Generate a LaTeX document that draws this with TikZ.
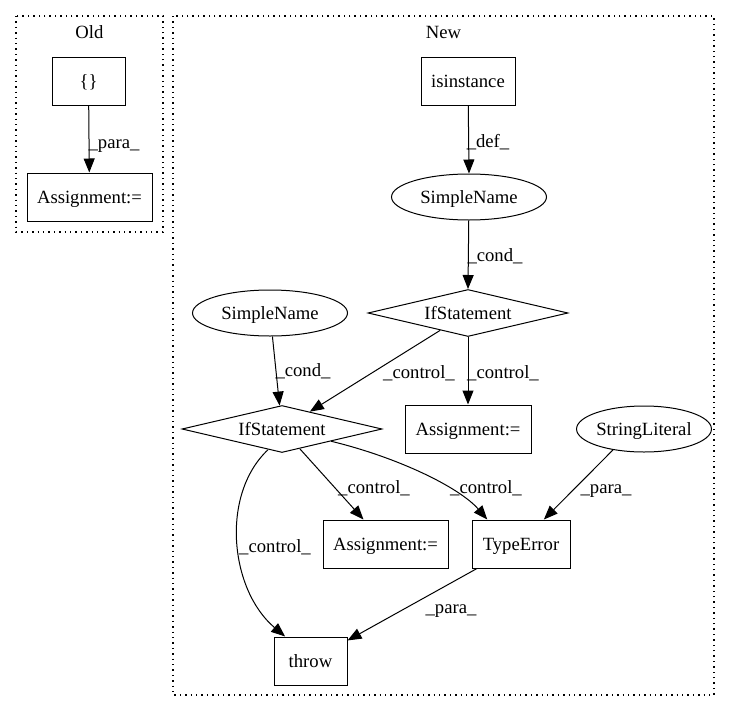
\documentclass[tikz,border=0pt]{standalone}
\usepackage{fontspec}
\setmainfont{Liberation Serif}
\usetikzlibrary{shapes.geometric,arrows.meta}
\begin{document}
\begin{tikzpicture}[x=1pt,y=-1pt,
  every node/.style={font=\fontsize{18.67}{22}\selectfont, text height=16pt, text depth=4pt, inner sep=0pt},
  box/.style={draw, line width=1pt, rectangle, minimum height=48pt},
  oval/.style={draw, line width=1pt, ellipse, minimum height=46pt},
  dia/.style={draw, line width=1pt, diamond, aspect=4.25, minimum width=200pt, minimum height=47pt},
  lbl/.style={},
  edge/.style={draw, line width=1pt, -{Triangle[length=14pt,width=11pt]}},
  cluster/.style={draw, line width=1.2pt, dash pattern=on 1.4pt off 4pt}
]
\useasboundingbox (0,0) rectangle (731,712);
% clusters
\draw[cluster] (16,16) rectangle (163,232);
\draw[cluster] (173,16) rectangle (714,695);
\node (toldt) at (89.5,32) {Old};
\node (tnewt) at (443.5,32) {New};
% Old nodes
\node[box, minimum width=73pt] (braces) at (88.5,81) {\{\}};
\node[box, minimum width=125pt] (oldassign) at (89.5,197) {Assignment:=};
% New nodes
\node[box, minimum width=94pt] (isinst) at (468,81) {isinstance};
\node[oval, minimum width=155pt] (sn1) at (469,197) {SimpleName};
\node[dia] (if1) at (468,313) {IfStatement};
\node[oval, minimum width=155pt] (sn2) at (270,313) {SimpleName};
\node[box, minimum width=126pt] (assign2) at (468,429) {Assignment:=};
\node[dia] (if2) at (282,429) {IfStatement};
\node[oval, minimum width=122pt] (strlit) at (644,429) {StringLiteral};
\node[box, minimum width=125pt] (assign3) at (385.5,544) {Assignment:=};
\node[box, minimum width=98pt] (typeerr) at (521,544) {TypeError};
\node[box, minimum width=73pt] (throw) at (310.5,661) {throw};
% edges
\draw[edge] (braces) -- (oldassign);
\node[lbl] (l1) at (114,142) {\_para\_};
\draw[edge] (isinst) -- (sn1.north);
\node[lbl] (l2) at (488,141) {\_def\_};
\draw[edge] (sn1) -- (if1.north);
\node[lbl] (l3) at (495,255) {\_cond\_};
\draw[edge] (sn2) -- (if2);
\node[lbl] (l4) at (303,370) {\_cond\_};
\draw[edge] (if1) -- (if2);
\node[lbl] (l5) at (419,372) {\_control\_};
\draw[edge] (if1.south) -- (assign2.north);
\node[lbl] (l6) at (503,372) {\_control\_};
\draw[edge] (if2.236) .. controls (220,495) and (230,590) .. (throw.136);
\node[lbl] (l7) at (275,546) {\_control\_};
\draw[edge] (if2) -- (assign3);
\node[lbl] (l8) at (374,487) {\_control\_};
\draw[edge] (if2.-14) .. controls (400,458) and (460,488) .. (typeerr.144);
\node[lbl] (l9) at (486,487) {\_control\_};
\draw[edge] (strlit.214) -- (typeerr.47);
\node[lbl] (l10) at (606,487) {\_para\_};
\draw[edge] (typeerr) -- (throw);
\node[lbl] (l11) at (451,607) {\_para\_};
\end{tikzpicture}
\end{document}
